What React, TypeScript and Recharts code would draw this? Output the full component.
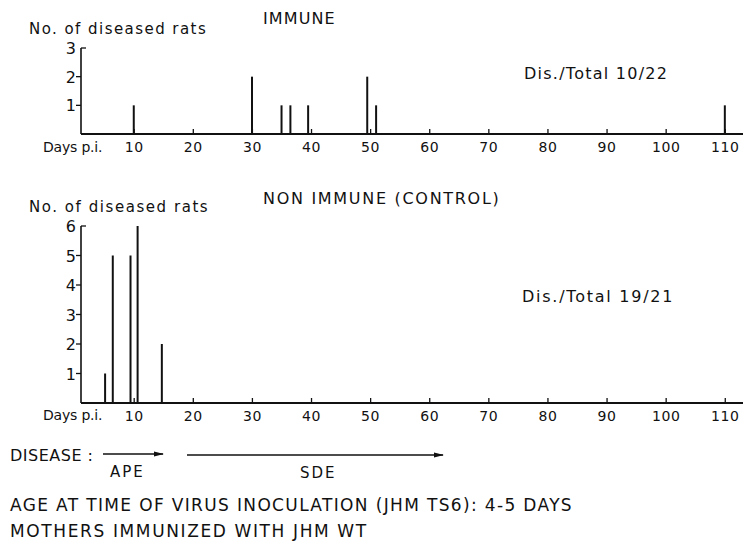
import React from "react";
import { BarChart, Bar, XAxis, YAxis } from "recharts";

// ---- data ----
const immuneDays = [10, 30, 35, 36.5, 39.5, 49.5, 51, 110];
const immuneCounts = [1, 2, 1, 1, 1, 2, 1, 1];
const controlDays = [5, 6.3, 9.3, 10.5, 14.6];
const controlCounts = [1, 5, 5, 6, 2];
const xTicks = [10, 20, 30, 40, 50, 60, 70, 80, 90, 100, 110];
const immuneYTicks = [1, 2, 3];
const controlYTicks = [1, 2, 3, 4, 5, 6];

const immuneData = immuneDays.map((d, i) => ({ day: d, n: immuneCounts[i] }));
const controlData = controlDays.map((d, i) => ({ day: d, n: controlCounts[i] }));

const FONT = "'DejaVu Sans', Verdana, sans-serif";
const INK = "#111";
const W = 400;

const XTick = (props: any) => {
  const { x, y, payload } = props;
  return (
    <g>
      <line x1={x} y1={y} x2={x} y2={y - 5} stroke={INK} strokeWidth={1.3} />
      <text x={x} y={y + 18} textAnchor="middle" fontFamily={FONT} fontSize={14} fontWeight={W} fill={INK} letterSpacing={0.6}>
        {payload.value}
      </text>
    </g>
  );
};

const makeYTick = (max: number) => (props: any) => {
  const { x, y, payload } = props;
  const top = payload.value === max;
  return (
    <g>
      {top ? (
        <line x1={x} y1={y} x2={x + 5} y2={y} stroke={INK} strokeWidth={1.3} />
      ) : (
        <line x1={x} y1={y} x2={x - 5} y2={y} stroke={INK} strokeWidth={1.3} />
      )}
      <text x={x - 5} y={y + 6} textAnchor="end" fontFamily={FONT} fontSize={16} fontWeight={W} fill={INK}>
        {payload.value}
      </text>
    </g>
  );
};

const Panel = ({ data, yMax, yTicks, height, top }: any) => (
  <div style={{ position: "absolute", left: 0, top }}>
    <BarChart width={748} height={height} data={data} margin={{ top: height - 30 - (yMax === 3 ? 86 : 177), right: 5, bottom: 0, left: 51 }} barCategoryGap={0}>
      <XAxis
        dataKey="day"
        type="number"
        domain={[1, 113]}
        ticks={xTicks}
        allowDataOverflow
        height={30}
        tickSize={0}
        tickMargin={0}
        tickLine={false}
        axisLine={{ stroke: INK, strokeWidth: 2 }}
        tick={<XTick />}
        interval={0}
      />
      <YAxis
        type="number"
        domain={[0, yMax]}
        ticks={yTicks}
        width={30}
        tickSize={0}
        tickMargin={0}
        tickLine={false}
        axisLine={{ stroke: INK, strokeWidth: 1.6 }}
        tick={makeYTick(yMax)}
        interval={0}
      />
      <Bar dataKey="n" fill={INK} barSize={2} isAnimationActive={false} />
    </BarChart>
  </div>
);

const T = ({ x, y, size = 15, ls = 1, children, anchor = "start" }: any) => (
  <text x={x} y={y} fontFamily={FONT} fontSize={size} fontWeight={W} fill={INK} letterSpacing={ls} textAnchor={anchor}>
    {children}
  </text>
);

export default function App() {
  return (
    <div style={{ position: "absolute", left: 0, top: 0, width: 748, height: 542, background: "#fff", overflow: "hidden" }}>
      <Panel data={immuneData} yMax={3} yTicks={immuneYTicks} height={164} top={0} />
      <Panel data={controlData} yMax={6} yTicks={controlYTicks} height={263} top={170} />
      <svg width={748} height={542} style={{ position: "absolute", left: 0, top: 0, pointerEvents: "none" }}>
        <defs>
          <marker id="ah" markerWidth="10" markerHeight="6" refX="9" refY="3" orient="auto" markerUnits="userSpaceOnUse">
            <path d="M0,0.5 L10,3 L0,5.5 Z" fill={INK} />
          </marker>
        </defs>
        <T x={263} y={24} size={16} ls={1.1}>IMMUNE</T>
        <T x={29} y={34} size={15} ls={1.45}>No. of diseased rats</T>
        <T x={524} y={79} size={16} ls={1.25}>{"Dis./Total  10/22"}</T>
        <T x={43} y={152} size={14} ls={-0.2}>Days p.i.</T>

        <T x={263} y={204} size={16} ls={1.7}>{"NON  IMMUNE  (CONTROL)"}</T>
        <T x={29} y={212} size={15} ls={1.55}>No. of diseased rats</T>
        <T x={522} y={302} size={16} ls={1.75}>{"Dis./Total  19/21"}</T>
        <T x={43} y={420} size={14} ls={-0.2}>Days p.i.</T>

        <T x={10} y={461} size={16} ls={0.5}>{"DISEASE :"}</T>
        <line x1={103} y1={454} x2={163} y2={454} stroke={INK} strokeWidth={1.3} markerEnd="url(#ah)" />
        <T x={110} y={477} size={15} ls={2}>APE</T>
        <line x1={187} y1={455} x2={443} y2={455} stroke={INK} strokeWidth={1.3} markerEnd="url(#ah)" />
        <T x={300} y={478} size={15} ls={2}>SDE</T>

        <T x={10} y={511} size={17} ls={1.35}>{"AGE AT TIME OF VIRUS INOCULATION (JHM TS6): 4-5 DAYS"}</T>
        <T x={10} y={537} size={17} ls={1.62}>{"MOTHERS IMMUNIZED WITH JHM WT"}</T>
      </svg>
    </div>
  );
}
